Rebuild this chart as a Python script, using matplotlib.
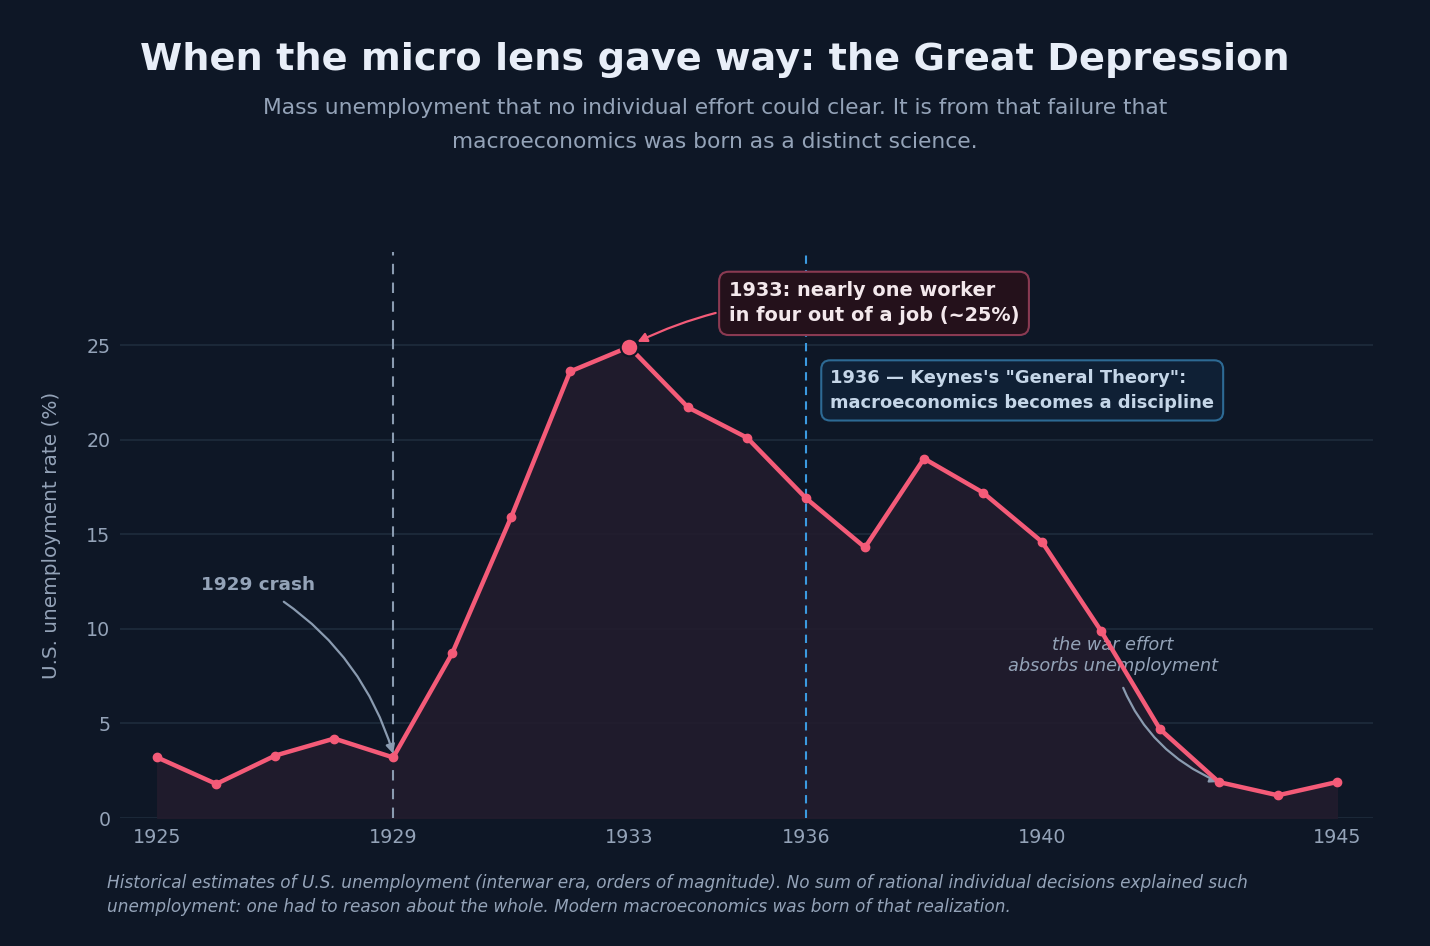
import matplotlib
matplotlib.use("Agg")
import matplotlib.pyplot as plt

plt.rcParams['font.family'] = ['DejaVu Sans']

# datos (lectura aproximada del grafico)
years = [1925, 1926, 1927, 1928, 1929, 1930, 1931, 1932, 1933, 1934, 1935,
         1936, 1937, 1938, 1939, 1940, 1941, 1942, 1943, 1944, 1945]
unemp = [3.2, 1.8, 3.3, 4.2, 3.2, 8.7, 15.9, 23.6, 24.9, 21.7, 20.1,
         16.9, 14.3, 19.0, 17.2, 14.6, 9.9, 4.7, 1.9, 1.2, 1.9]
xticks = [1925, 1929, 1933, 1936, 1940, 1945]
yticks = [0, 5, 10, 15, 20, 25]

BG = "#0e1726"
PINK = "#f45b78"
GREY = "#94a3b8"

fig = plt.figure(figsize=(14.3, 9.46), dpi=100, facecolor=BG)
ax = fig.add_axes([0.084, 0.1353, 0.876, 0.598], facecolor=BG)

ax.fill_between(years, unemp, 0, color="#221c2d", alpha=0.9, zorder=1)
ax.plot(years, unemp, color=PINK, lw=3.2, marker="o", ms=6, zorder=4)
ax.scatter([1933], [24.9], s=160, color=PINK, edgecolor=BG, lw=1.5, zorder=5)

ax.axvline(1929, color="#8a9bb0", ls=(0, (5, 4)), lw=1.5, zorder=2)
ax.axvline(1936, color="#3b9ae0", ls=(0, (4, 3)), lw=1.5, zorder=2)

ax.set_xlim(1924.37, 1945.61)
ax.set_ylim(0, 29.9)
ax.set_xticks(xticks)
ax.set_yticks(yticks)
ax.grid(axis="y", color="#1b2838", lw=1.5, zorder=0)
ax.set_axisbelow(True)
for s in ax.spines.values():
    s.set_visible(False)
ax.tick_params(colors=GREY, labelsize=13.7, length=0, pad=7)
ax.set_ylabel("U.S. unemployment rate (%)", color=GREY, fontsize=14.4, labelpad=18)

# anotaciones
ax.annotate("1933: nearly one worker\nin four out of a job (~25%)",
            xy=(1933.1, 25.1), xytext=(1934.69, 27.2),
            color="#f3e8ec", fontsize=13.9, fontweight="bold", va="center", ha="left",
            linespacing=1.4,
            bbox=dict(boxstyle="round,pad=0.5", fc="#24111b", ec="#8a3a52", lw=1.5),
            arrowprops=dict(arrowstyle="-|>", color=PINK, lw=1.6,
                            connectionstyle="arc3,rad=0.15", shrinkA=2, shrinkB=2),
            zorder=6)
ax.text(1936.41, 22.6, "1936 — Keynes's \"General Theory\":\nmacroeconomics becomes a discipline",
        color="#c5d6e8", fontsize=12.9, fontweight="bold", va="center", ha="left",
        linespacing=1.45,
        bbox=dict(boxstyle="round,pad=0.5", fc="#0f2035", ec="#2d6a94", lw=1.5), zorder=6)

ax.annotate("1929 crash", xy=(1929, 3.4), xytext=(1926.7, 12.3),
            color=GREY, fontsize=13.2, fontweight="bold", ha="center", va="center",
            arrowprops=dict(arrowstyle="-|>", color="#8a9bb0", lw=1.6,
                            connectionstyle="arc3,rad=-0.2", shrinkA=6, shrinkB=0))
ax.annotate("the war effort\nabsorbs unemployment", xy=(1943.0, 1.9), xytext=(1941.2, 8.6),
            color=GREY, fontsize=12.8, style="italic", ha="center", va="center",
            arrowprops=dict(arrowstyle="-|>", color="#8a9bb0", lw=1.6,
                            connectionstyle="arc3,rad=0.25", shrinkA=8, shrinkB=0))

fig.text(0.5, 0.937, "When the micro lens gave way: the Great Depression",
         color="#e8eef8", fontsize=27.5, fontweight="bold", ha="center", va="center")
fig.text(0.5, 0.868, "Mass unemployment that no individual effort could clear. It is from that failure that\n"
         "macroeconomics was born as a distinct science.",
         color=GREY, fontsize=15.7, ha="center", va="center", linespacing=1.85)
fig.text(0.075, 0.054, "Historical estimates of U.S. unemployment (interwar era, orders of magnitude). No sum of rational individual decisions explained such\n"
         "unemployment: one had to reason about the whole. Modern macroeconomics was born of that realization.",
         color=GREY, fontsize=12.2, style="italic", ha="left", va="center", linespacing=1.46)

fig.savefig("out.png", dpi=100, facecolor=BG)
